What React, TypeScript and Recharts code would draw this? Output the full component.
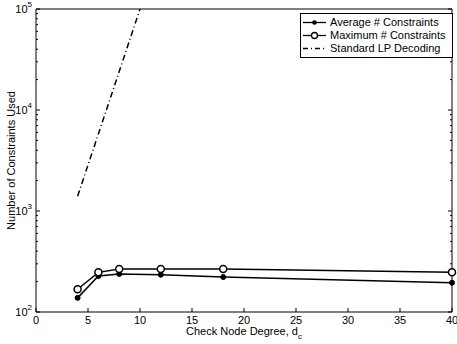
import {
  LineChart,
  Line,
  XAxis,
  YAxis,
  Label,
} from "recharts";

const degrees = [4, 6, 8, 12, 18, 40];
const avgConstraints = [138, 227, 238, 234, 222, 195];
const maxConstraints = [168, 247, 267, 267, 267, 247];

const lpDegrees = [4, 6, 8, 10];
const lpConstraints = [1400, 5800, 24000, 100000];

const xTicks = [0, 5, 10, 15, 20, 25, 30, 35, 40];
const decades = [100, 1000, 10000, 100000];
const yTicks = [
  100, 200, 300, 400, 500, 600, 700, 800, 900,
  1000, 2000, 3000, 4000, 5000, 6000, 7000, 8000, 9000,
  10000, 20000, 30000, 40000, 50000, 60000, 70000, 80000, 90000,
  100000,
];

const avgData = degrees.map((d, i) => ({ d, v: avgConstraints[i] }));
const maxData = degrees.map((d, i) => ({ d, v: maxConstraints[i] }));
const lpData = lpDegrees.map((d, i) => ({ d, v: lpConstraints[i] }));

const FONT = "'Liberation Sans', Arial, sans-serif";

function LeftTick(props: any) {
  const { x, y, payload } = props;
  const major = decades.includes(payload.value);
  const exp = Math.round(Math.log10(payload.value));
  return (
    <g>
      <line x1={x} y1={y} x2={x + (major ? 4 : 2)} y2={y} stroke="#000" />
      {major && (
        <text x={x - 4} y={y + 4} textAnchor="end" fontSize={11} fontFamily={FONT} fill="#000">
          10
          <tspan dy={-6} fontSize={8}>{exp}</tspan>
        </text>
      )}
    </g>
  );
}

function RightTick(props: any) {
  const { x, y, payload } = props;
  const major = decades.includes(payload.value);
  return <line x1={x - (major ? 4 : 2)} y1={y} x2={x} y2={y} stroke="#000" />;
}

function BottomTick(props: any) {
  const { x, y, payload } = props;
  return (
    <g>
      <line x1={x} y1={y} x2={x} y2={y - 4} stroke="#000" />
      <text x={x} y={y + 12} textAnchor="middle" fontSize={11} fontFamily={FONT} fill="#000">
        {payload.value}
      </text>
    </g>
  );
}

function TopTick(props: any) {
  const { x, y } = props;
  return <line x1={x} y1={y} x2={x} y2={y + 4} stroke="#000" />;
}

function LegendBox() {
  const rows = [
    { name: "Average # Constraints", kind: "avg" },
    { name: "Maximum # Constraints", kind: "max" },
    { name: "Standard LP Decoding", kind: "lp" },
  ];
  return (
    <div
      style={{
        position: "absolute",
        left: 300,
        top: 13,
        boxSizing: "border-box",
        border: "1px solid #000",
        background: "#fff",
        width: 153,
        height: 45,
        padding: "2px 0",
        fontFamily: FONT,
        fontSize: 11,
        lineHeight: "13px",
      }}
    >
      {rows.map((r) => (
        <div key={r.name} style={{ display: "flex", alignItems: "center", height: 13 }}>
          <svg width={26} height={13} style={{ marginLeft: 1 }}>
            <line
              x1={1}
              y1={6.5}
              x2={24}
              y2={6.5}
              stroke="#000"
              strokeWidth={1.3}
              strokeDasharray={r.kind === "lp" ? "5 3 1 3" : undefined}
            />
            {r.kind === "avg" && <circle cx={12.5} cy={6.5} r={2.3} fill="#000" />}
            {r.kind === "max" && (
              <circle cx={12.5} cy={6.5} r={3} fill="#fff" stroke="#000" strokeWidth={1.3} />
            )}
          </svg>
          <span style={{ marginLeft: 2, whiteSpace: "nowrap" }}>{r.name}</span>
        </div>
      ))}
    </div>
  );
}

export default function App() {
  return (
    <div style={{ position: "absolute", left: 0, top: 0, width: 457, height: 344, background: "#fff" }}>
      <LineChart width={457} height={344} margin={{ top: 0, right: 0, left: 0, bottom: 0 }}>
        <XAxis
          xAxisId="bottom"
          dataKey="d"
          type="number"
          domain={[0, 40]}
          ticks={xTicks}
          height={32}
          tickSize={0}
          tickMargin={0}
          axisLine={{ stroke: "#000" }}
          tickLine={false}
          tick={<BottomTick />}
          interval={0}
        >
          <Label
            content={(p: any) => {
              const vb = p.viewBox;
              return (
                <text
                  x={vb.x + vb.width / 2}
                  y={vb.y + 23}
                  textAnchor="middle"
                  fontSize={11}
                  fontFamily={FONT}
                  fill="#000"
                >
                  Check Node Degree, d
                  <tspan dy={4} fontSize={8}>c</tspan>
                </text>
              );
            }}
          />
        </XAxis>
        <XAxis
          xAxisId="top"
          orientation="top"
          dataKey="d"
          type="number"
          domain={[0, 40]}
          ticks={xTicks}
          height={9}
          tickSize={0}
          tickMargin={0}
          axisLine={{ stroke: "#000" }}
          tickLine={false}
          tick={<TopTick />}
          interval={0}
        />
        <YAxis
          yAxisId="left"
          scale="log"
          type="number"
          domain={[100, 100000]}
          ticks={yTicks}
          allowDataOverflow
          width={36}
          tickSize={0}
          tickMargin={0}
          axisLine={{ stroke: "#000" }}
          tickLine={false}
          tick={<LeftTick />}
          interval={0}
        >
          <Label
            content={(p: any) => {
              const vb = p.viewBox;
              const cy = vb.y + vb.height / 2;
              return (
                <text
                  x={11}
                  y={cy}
                  transform={`rotate(-90, 11, ${cy})`}
                  textAnchor="middle"
                  dominantBaseline="central"
                  fontSize={11}
                  fontFamily={FONT}
                  fill="#000"
                >
                  Number of Constraints Used
                </text>
              );
            }}
          />
        </YAxis>
        <YAxis
          yAxisId="right"
          orientation="right"
          scale="log"
          type="number"
          domain={[100, 100000]}
          ticks={yTicks}
          allowDataOverflow
          width={5}
          tickSize={0}
          tickMargin={0}
          axisLine={{ stroke: "#000" }}
          tickLine={false}
          tick={<RightTick />}
          interval={0}
        />
        <Line
          xAxisId="bottom"
          yAxisId="left"
          data={lpData}
          dataKey="v"
          stroke="#000"
          strokeWidth={1.5}
          strokeDasharray="6 3 1 3"
          dot={false}
          isAnimationActive={false}
        />
        <Line
          xAxisId="bottom"
          yAxisId="left"
          data={avgData}
          dataKey="v"
          stroke="#000"
          strokeWidth={1.5}
          dot={{ r: 2.5, fill: "#000", stroke: "#000", strokeWidth: 1 }}
          isAnimationActive={false}
        />
        <Line
          xAxisId="bottom"
          yAxisId="left"
          data={maxData}
          dataKey="v"
          stroke="#000"
          strokeWidth={1.5}
          dot={{ r: 3.5, fill: "#fff", stroke: "#000", strokeWidth: 1.5 }}
          isAnimationActive={false}
        />
      </LineChart>
      <LegendBox />
    </div>
  );
}
